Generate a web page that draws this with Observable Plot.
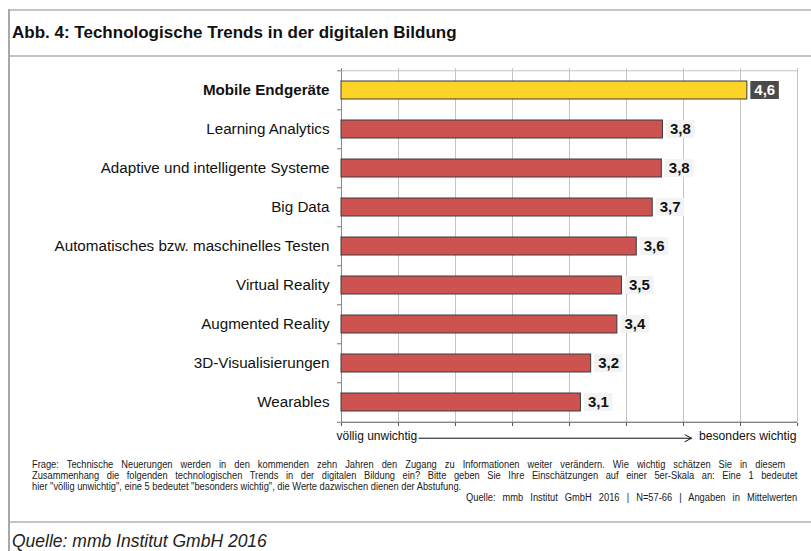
<!DOCTYPE html>
<html>
<head>
<meta charset="utf-8">
<script src="https://cdn.jsdelivr.net/npm/d3@7"></script>
<script src="https://cdn.jsdelivr.net/npm/@observablehq/plot@0.6"></script>
<style>
  html, body { margin: 0; padding: 0; background: #fff; }
  #wrap { position: relative; width: 811px; height: 551px; overflow: hidden; font-family: Arial, "Liberation Sans", sans-serif; color: #111; background: #fff; }
  .hline { position: absolute; left: 8px; right: 0; height: 2px; background: #c4c4c4; }
  .vline { position: absolute; left: 8px; top: 9px; bottom: 0; width: 1.5px; background: #a8a8a8; }
  #title { position: absolute; left: 12px; top: 22px; font-size: 17px; font-weight: bold; line-height: 22px; }
  #chart { position: absolute; left: 0; top: 57px; }
  .fn { position: absolute; left: 32px; font-size: 10px; line-height: 11px; white-space: nowrap; color: #1a1a1a; transform: scaleX(0.93); transform-origin: left top; }
  .just { text-align: justify; text-align-last: justify; white-space: normal; }
  #src { position: absolute; left: 12px; top: 530px; font-size: 17.5px; font-style: italic; line-height: 22px; color: #222; }
</style>
</head>
<body>
<div id="wrap">
  <div class="hline" style="top:9px"></div>
  <div class="hline" style="top:55px"></div>
  <div class="hline" style="top:521px"></div>
  <div class="vline"></div>
  <div id="title"></div>
  <div id="chart"></div>
  <div id="fn1" class="fn just" style="top:459px; width:810px;"></div>
  <div id="fn2" class="fn just" style="top:470px; width:823px;"></div>
  <div id="fn3" class="fn" style="top:481px;"></div>
  <div id="fn4" class="fn just" style="top:492px; left:466px; width:356px;"></div>
  <div id="src"></div>
</div>
<script>
const titleText = "Abb. 4: Technologische Trends in der digitalen Bildung";
const categories = [
  "Mobile Endgeräte",
  "Learning Analytics",
  "Adaptive und intelligente Systeme",
  "Big Data",
  "Automatisches bzw. maschinelles Testen",
  "Virtual Reality",
  "Augmented Reality",
  "3D-Visualisierungen",
  "Wearables"
];
const values = [4.56, 3.82, 3.81, 3.73, 3.59, 3.46, 3.42, 3.19, 3.10];
const highlight = ["Mobile Endgeräte"];
const gridTicks = [1, 1.5, 2, 2.5, 3, 3.5, 4, 4.5, 5];
const axisLabels = ["völlig unwichtig", "besonders wichtig"];
const arrowSpan = [1.68, 4.07];
const footnoteLines = [
  "Frage: Technische Neuerungen werden in den kommenden zehn Jahren den Zugang zu Informationen weiter verändern. Wie wichtig schätzen Sie in diesem",
  "Zusammenhang die folgenden technologischen Trends in der digitalen Bildung ein? Bitte geben Sie Ihre Einschätzungen auf einer 5er-Skala an: Eine 1 bedeutet",
  "hier \"völlig unwichtig\", eine 5 bedeutet \"besonders wichtig\", die Werte dazwischen dienen der Abstufung.",
  "Quelle: mmb Institut GmbH 2016 | N=57-66 | Angaben in Mittelwerten"
];
const sourceText = "Quelle: mmb Institut GmbH 2016";

document.getElementById("title").textContent = titleText;
footnoteLines.forEach((t, i) => document.getElementById("fn" + (i + 1)).textContent = t);
document.getElementById("src").textContent = sourceText;

const W = 811, H = 400, mt = 11, mb = 34, ml = 341, mr = 14;
const step = (H - mt - mb) / categories.length;
const data = categories.map((c, i) => ({cat: c, value: values[i], hi: highlight.includes(c)}));
const fmt = v => v.toFixed(1).replace(".", ",");
const last = categories[categories.length - 1];

const chart = Plot.plot({
  width: W, height: H,
  marginTop: mt, marginBottom: mb, marginLeft: ml, marginRight: mr,
  x: {domain: [1, 5], axis: null},
  y: {domain: categories, paddingInner: 0.54, paddingOuter: 0.27, axis: null},
  color: {type: "identity"},
  style: {fontFamily: "Arial, 'Liberation Sans', sans-serif", background: "transparent", color: "#111", overflow: "visible"},
  marks: [
    Plot.ruleX(gridTicks, {stroke: "#c4c4c4", strokeWidth: 1}),
    Plot.ruleY([categories[0]], {dy: -step / 2, stroke: "#c4c4c4"}),
    Plot.ruleY(categories, {x1: 1, x2: 1, insetLeft: -4, dy: -step / 2, stroke: "#777"}),
    Plot.ruleY([last], {x1: 1, x2: 1, insetLeft: -4, dy: step / 2, stroke: "#777"}),
    Plot.ruleY([last], {dy: step / 2, stroke: "#555"}),
    Plot.ruleX([1], {stroke: "#888"}),
    Plot.axisX({ticks: gridTicks, tickSize: 3, tickFormat: () => "", label: null, stroke: "#555"}),
    Plot.barX(data, {x1: 1, x2: "value", y: "cat", fill: d => d.hi ? "#FDD327" : "#CC5350", stroke: "#3c3c3c", strokeWidth: 1}),
    Plot.barX(data, {x1: "value", x2: "value", y: "cat", insetLeft: 3.5, insetRight: -32, fill: d => d.hi ? "#4a4a4a" : "#f3f3f3"}),
    Plot.text(data, {x: "value", y: "cat", text: d => fmt(d.value), textAnchor: "start", dx: 7, fontWeight: "bold", fontSize: 15, fill: d => d.hi ? "#ffffff" : "#111111"}),
    Plot.text(data.filter(d => !d.hi), {y: "cat", text: "cat", frameAnchor: "left", textAnchor: "end", dx: -12, fontSize: 15.2, fill: "#111"}),
    Plot.text(data.filter(d => d.hi), {y: "cat", text: "cat", frameAnchor: "left", textAnchor: "end", dx: -12, fontSize: 15.2, fontWeight: "bold", fill: "#111"}),
    Plot.text([axisLabels[0]], {frameAnchor: "bottom-left", text: d => d, textAnchor: "start", dx: -5, dy: 16, fontSize: 12, fill: "#111"}),
    Plot.text([axisLabels[1]], {frameAnchor: "bottom-right", text: d => d, textAnchor: "end", dx: -1, dy: 16, fontSize: 12.2, fill: "#111"}),
    Plot.arrow([{a: arrowSpan[0], b: arrowSpan[1], c: last}], {x1: "a", x2: "b", y1: "c", y2: "c", dy: step / 2 + 16, headLength: 11, headAngle: 55, stroke: "#111", strokeWidth: 1})
  ]
});
document.getElementById("chart").appendChild(chart);
</script>
</body>
</html>
